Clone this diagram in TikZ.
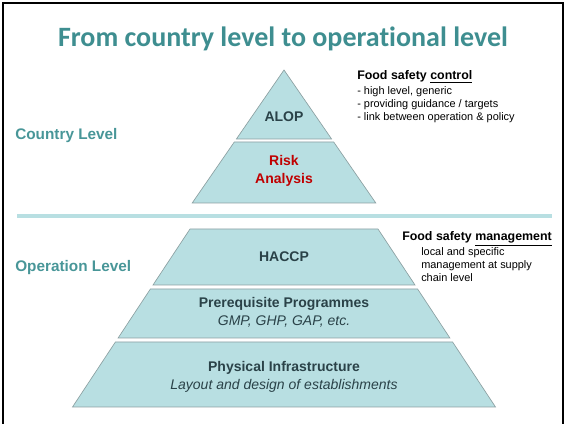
\documentclass[tikz,border=0pt]{standalone}
\usepackage{fontspec}
\setmainfont{Liberation Sans}
\newfontfamily\titlefont[Ligatures=NoCommon]{Carlito}
\usetikzlibrary{positioning}

\definecolor{titleteal}{RGB}{62,142,144}
\definecolor{levelteal}{RGB}{72,150,152}
\definecolor{bandfill}{RGB}{184,223,226}
\definecolor{bandedge}{RGB}{140,160,162}
\definecolor{bandtext}{RGB}{42,66,72}
\definecolor{riskred}{RGB}{192,0,0}

\tikzset{
  band/.style={fill=bandfill, draw=bandedge, line width=0.5pt, line join=miter},
  bandlabel/.style={align=center, text=bandtext, font=\fontsize{10.5}{13}\selectfont, inner sep=0pt},
  levellabel/.style={anchor=west, text=levelteal, font=\fontsize{11.5}{14}\selectfont\bfseries, inner sep=0pt},
  notehead/.style={anchor=base west, inner sep=0pt, font=\fontsize{9.3}{11}\selectfont\bfseries},
  notetext/.style={anchor=north west, align=left, inner sep=0pt, font=\fontsize{8.2}{10}\selectfont}
}

\begin{document}
\begin{tikzpicture}[x=0.75pt, y=-0.75pt]
        \useasboundingbox (0,0) rectangle (565,424);

        % Cornice
        \draw[line width=1.5pt] (3,424) -- (3,3) -- (563,3) -- (563,424);

        % Titolo
        \node[text=titleteal, font=\titlefont\fontsize{21}{24}\selectfont\bfseries] (title) at (283,38.5) {From country level to operational level};

        % Piramide superiore (livello paese)
        \coordinate (Apex) at (284,70);
        \draw[band] (Apex) -- (331.6,139) -- (236.4,139) -- cycle;
        \draw[band] (234.3,142) -- (333.7,142) -- (375.8,203) -- (192.2,203) -- cycle;

        % Linea di separazione
        \coordinate (SepL) at (17,216);
        \coordinate (SepR) at (552,216);
        \draw[bandfill, line width=2.4pt] (SepL) -- (SepR);

        % Piramide inferiore (livello operativo)
        \draw[band] (190,229) -- (378,229) -- (415,285) -- (153,285) -- cycle;
        \draw[band] (150.4,289) -- (417.6,289) -- (449.9,338) -- (118.1,338) -- cycle;
        \draw[band] (115.4,342) -- (452.6,342) -- (495.5,407) -- (72.5,407) -- cycle;

        % Etichette dei blocchi
        \node[bandlabel, font=\fontsize{10.5}{13}\selectfont\bfseries] (alop) at (284,117) {ALOP};
        \node[bandlabel, text=riskred, font=\fontsize{10.5}{13.5}\selectfont\bfseries] (risk) at (284,171) {Risk\\Analysis};
        \node[bandlabel, font=\fontsize{10.5}{13}\selectfont\bfseries] (haccp) at (284,257) {HACCP};
        \node[bandlabel] (prp) at (284,312.5) {\textbf{Prerequisite Programmes}\\[0.5pt]\textit{GMP, GHP, GAP, etc.}};
        \node[bandlabel] (infra) at (284,376.5) {\textbf{Physical Infrastructure}\\[0.5pt]\textit{Layout and design of establishments}};

        % Livelli
        \node[levellabel] (country) at (15,136) {Country Level};
        \node[levellabel] (operation) at (15,268) {Operation Level};

        % Note a destra
        \node[notehead] (ctrlhead) at (357,80) {Food safety \underline{control}};
        \node[notetext] (ctrltext) at (357,86) {- high level, generic\\- providing guidance / targets\\- link between operation \& policy};
        \node[notehead] (mgmthead) at (402,240.5) {Food safety \underline{management}};
        \node[notetext] (mgmttext) at (421,247) {local and specific\\management at supply\\chain level};

    \end{tikzpicture}
\end{document}
